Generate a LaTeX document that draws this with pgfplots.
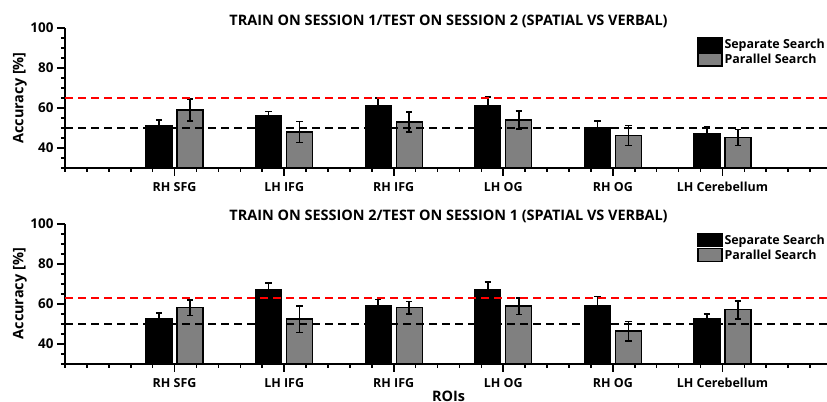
\documentclass[border=0pt]{standalone}
\usepackage{fontspec}
\setmainfont{Open Sans}
\usepackage{pgfplots}
\pgfplotsset{compat=1.18}
\definecolor{pgray}{RGB}{128,128,128}
\definecolor{pred}{RGB}{255,0,0}
\newcommand{\lab}{\fontsize{12.5}{14}\selectfont\bfseries}
\newcommand{\num}{\fontsize{13.5}{15}\selectfont\bfseries}
\newcommand{\ttl}{\fontsize{14.5}{16}\selectfont\bfseries}
\pgfplotsset{
 panel/.style={
  scale only axis, width=767bp, height=140bp,
  xmin=0, xmax=7, ymin=30, ymax=100,
  ybar,
  axis x line*=bottom, axis y line*=left,
  axis line style={line width=1.6bp},
  xtick={1,...,6},
  xticklabels={RH SFG, LH IFG, RH IFG, LH OG, RH OG, LH Cerebellum},
  minor xtick={0,0.2,...,7.01},
  ytick={40,60,80,100}, minor ytick={30,35,...,100},
  tick align=outside, major tick length=8bp, minor tick length=4bp,
  every tick/.style={black, line width=1.6bp},
  xticklabel style={font=\lab, yshift=-3bp},
  yticklabel style={font=\num},
  /pgf/number format/assume math mode=true,
  ylabel={Accuracy [\%]},
  ylabel style={font=\ttl, at={(axis description cs:-0.0587,0.5)}, anchor=center},
  title style={font=\ttl, at={(axis description cs:0.5,1)}, anchor=base, yshift=-3pt, inner sep=0pt},
  legend style={draw=none, fill=none, at={(axis description cs:0.824,0.936)}, anchor=north west, inner sep=0pt, row sep=0pt, font=\lab, cells={anchor=west}},
  legend image code/.code={\draw[#1, line width=1.3bp] (0bp,-6.5bp) rectangle (24bp,6.5bp);},
 },
 ebars/.style={error bars/.cd, y dir=both, y explicit, error mark=-, error bar style={line width=1.6bp, black}, error mark options={rotate=90, line width=1.6bp, mark size=3.2bp, black}},
 sbar/.style={bar width=26bp, bar shift=-15.5bp, fill=black, draw=black, line width=1.3bp, ebars},
 pbar/.style={bar width=26bp, bar shift=15.5bp, fill=pgray, draw=black, line width=1.3bp, ebars},
 rline/.style={sharp plot, pred, line width=1.6bp, dash pattern=on 8bp off 5bp, forget plot},
 kline/.style={sharp plot, black, line width=1.6bp, dash pattern=on 8bp off 5bp, forget plot},
}
\begin{document}
\begin{tikzpicture}
\begin{axis}[panel, at={(65bp,234bp)}, anchor=south west,
  title={TRAIN ON SESSION 1/TEST ON SESSION 2 (SPATIAL VS VERBAL)}]
\addplot[sbar] coordinates {(1,51) +- (0,3) (2,56) +- (0,2.3) (3,61) +- (0,4) (4,61) +- (0,4.5) (5,50.2) +- (0,3.3) (6,47.2) +- (0,3.3)};
\addplot[pbar] coordinates {(1,59) +- (0,5.5) (2,48) +- (0,5.2) (3,53) +- (0,5) (4,54) +- (0,4.5) (5,46.2) +- (0,5) (6,45.3) +- (0,4)};
\addplot[rline] coordinates {(0,65) (7,65)};
\addplot[kline] coordinates {(0,50) (7,50)};
\legend{Separate Search, Parallel Search}
\end{axis}
\begin{axis}[panel, at={(65bp,38.3bp)}, anchor=south west,
  title={TRAIN ON SESSION 2/TEST ON SESSION 1 (SPATIAL VS VERBAL)},
  xlabel={ROIs}, xlabel style={font=\ttl, at={(axis description cs:0.5,0)}, anchor=base, yshift=-38bp}]
\addplot[sbar] coordinates {(1,52.3) +- (0,3) (2,66.8) +- (0,3.7) (3,58.8) +- (0,3.3) (4,66.8) +- (0,4.2) (5,58.8) +- (0,4.8) (6,52.3) +- (0,2.7)};
\addplot[pbar] coordinates {(1,58) +- (0,3.8) (2,52.3) +- (0,6.7) (3,58) +- (0,3.2) (4,58.8) +- (0,4.2) (5,46.3) +- (0,4.8) (6,57) +- (0,4.5)};
\addplot[rline] coordinates {(0,63) (7,63)};
\addplot[kline] coordinates {(0,50) (7,50)};
\legend{Separate Search, Parallel Search}
\end{axis}
\pgfresetboundingbox
\useasboundingbox (0,0) rectangle (827bp,402bp);
\end{tikzpicture}
\end{document}
